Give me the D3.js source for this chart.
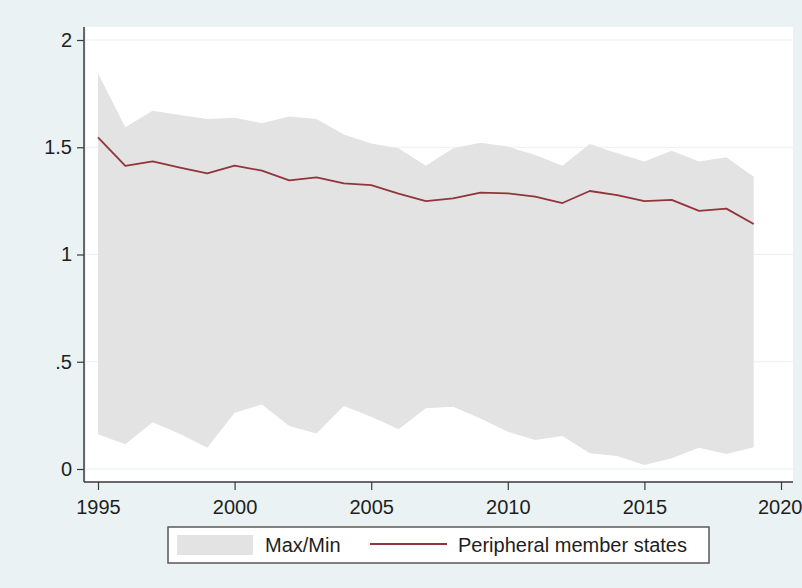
<!DOCTYPE html>
<html>
<head>
<meta charset="utf-8">
<script src="https://cdn.jsdelivr.net/npm/d3@7"></script>
<style>
  body { margin: 0; background: #eaf2f3; }
  text { font-family: "Liberation Sans", Arial, sans-serif; fill: #1e1e1e; }
</style>
</head>
<body>
<svg id="chart" width="802" height="588"></svg>
<script>
// values
var years = [1995,1996,1997,1998,1999,2000,2001,2002,2003,2004,2005,2006,2007,
             2008,2009,2010,2011,2012,2013,2014,2015,2016,2017,2018,2019]
var maxVals = [1.845,1.593,1.670,1.650,1.632,1.638,1.612,1.643,1.632,1.560,1.518,1.495,1.414,
               1.495,1.521,1.503,1.464,1.414,1.515,1.472,1.433,1.484,1.433,1.453,1.363]
var minVals = [0.162,0.115,0.218,0.163,0.099,0.262,0.301,0.200,0.166,0.294,0.244,0.185,0.283,
               0.290,0.236,0.174,0.135,0.154,0.073,0.061,0.019,0.050,0.099,0.070,0.101]
var meanVals = [1.546,1.413,1.434,1.405,1.378,1.414,1.391,1.346,1.360,1.332,1.323,1.284,1.249,
                1.262,1.288,1.285,1.270,1.240,1.296,1.277,1.249,1.255,1.203,1.214,1.142]
var yTicks = [0, 0.5, 1, 1.5, 2]
var yTickLabels = ["0", ".5", "1", "1.5", "2"]
var xTicks = [1995, 2000, 2005, 2010, 2015, 2020]
var legendLabels = ["Max/Min", "Peripheral member states"]

var bandColor = "#e3e3e3"
var lineColor = "#90353b"
var axisColor = "#3a3a3a"

var data = years.map(function(y, i) {
    return {year: y, max: maxVals[i], min: minVals[i], mean: meanVals[i]}
})

var svg = d3.select("#chart")

var x = d3.scaleLinear().domain([1995, 2020]).range([98, 781])
var y = d3.scaleLinear().domain([0, 2]).range([469, 40])

//plot region
svg.append("rect")
    .attr("x", 86)
    .attr("y", 27)
    .attr("width", 707)
    .attr("height", 455)
    .attr("fill", "white")

//grid lines
svg.append("g")
    .selectAll("line")
    .data(yTicks)
    .enter()
    .append("line")
    .attr("x1", 86)
    .attr("x2", 793)
    .attr("y1", (d) => y(d))
    .attr("y2", (d) => y(d))
    .attr("stroke", "#e9eff2")
    .attr("stroke-width", 1.2)

//max/min band
var area = d3.area()
    .x((d) => x(d.year))
    .y0((d) => y(d.min))
    .y1((d) => y(d.max))

svg.append("path")
    .datum(data)
    .attr("d", area)
    .attr("fill", bandColor)

//mean line
var line = d3.line()
    .x((d) => x(d.year))
    .y((d) => y(d.mean))

svg.append("path")
    .datum(data)
    .attr("d", line)
    .attr("fill", "none")
    .attr("stroke", lineColor)
    .attr("stroke-width", 1.8)
    .attr("stroke-linejoin", "round")

//axes
var yAxis = d3.axisLeft(y)
    .tickValues(yTicks)
    .tickFormat((d, i) => yTickLabels[i])
    .tickSize(7)
    .tickPadding(5)

var xAxis = d3.axisBottom(x)
    .tickValues(xTicks)
    .tickFormat(d3.format("d"))
    .tickSize(8)
    .tickPadding(10)

var gy = svg.append("g")
    .attr("transform", "translate(84,0)")
    .call(yAxis)
gy.select(".domain").attr("d", "M0,27V482")

var gx = svg.append("g")
    .attr("transform", "translate(0,482)")
    .call(xAxis)
gx.select(".domain").attr("d", "M84,0H793")

svg.selectAll(".domain").attr("stroke", axisColor).attr("stroke-width", 1.5)
svg.selectAll(".tick line").attr("stroke", axisColor).attr("stroke-width", 1.2)
svg.selectAll(".tick text")
    .attr("font-size", "20px")
    .attr("font-family", "Liberation Sans, Arial, sans-serif")
    .attr("fill", "#1e1e1e")

// last label sits right at the window edge, keep it inside
gx.selectAll(".tick text")
    .filter((d) => d === 2020)
    .attr("text-anchor", "end")
    .attr("dx", "21")

//legend
var lg = svg.append("g")

lg.append("rect")
    .attr("x", 168)
    .attr("y", 527)
    .attr("width", 541)
    .attr("height", 36)
    .attr("fill", "white")
    .attr("stroke", "#5a5a5a")
    .attr("stroke-width", 1.5)

lg.append("rect")
    .attr("x", 177)
    .attr("y", 535)
    .attr("width", 76)
    .attr("height", 20)
    .attr("fill", bandColor)

lg.append("text")
    .attr("x", 265)
    .attr("y", 552)
    .attr("font-size", "20px")
    .text(legendLabels[0])

lg.append("line")
    .attr("x1", 370)
    .attr("x2", 447)
    .attr("y1", 544)
    .attr("y2", 544)
    .attr("stroke", lineColor)
    .attr("stroke-width", 1.8)

lg.append("text")
    .attr("x", 458)
    .attr("y", 552)
    .attr("font-size", "20px")
    .text(legendLabels[1])
</script>
</body>
</html>
